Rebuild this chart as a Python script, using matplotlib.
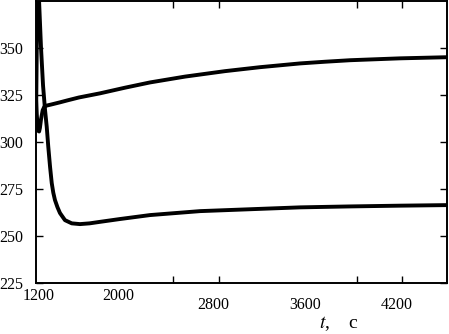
import matplotlib.pyplot as plt
from matplotlib.ticker import FixedLocator
from matplotlib.transforms import ScaledTranslation

plt.rcParams["font.family"] = ["Liberation Serif", "DejaVu Serif"]
plt.rcParams["mathtext.fontset"] = "stix"

# upper curve (settles near 345)
t_upper = [1200, 1206, 1213, 1220, 1226, 1233, 1242, 1256, 1270, 1290, 1330, 1400, 1460,
           1560, 1737, 1947, 2157, 2451, 2787, 3080, 3416, 3626, 3836, 4255, 4650]
v_upper = [323.0, 315.0, 308.5, 305.8, 305.5, 307.5, 312.0, 316.8, 318.7, 319.3, 319.9,
           321.0, 322.0, 323.6, 325.8, 328.8, 331.6, 334.7, 337.6, 339.7, 341.7, 342.6,
           343.4, 344.4, 345.0]

# lower curve (overshoots, settles near 266)
t_lower = [1200, 1204, 1209, 1214, 1219, 1225, 1242, 1259, 1276, 1290, 1303, 1318, 1332,
           1345, 1359, 1380, 1401, 1443, 1500, 1569, 1650, 1737, 1905, 2157, 2577, 2996,
           3416, 3836, 4255, 4650]
v_lower = [309.0, 335.0, 368.0, 388.0, 390.0, 376.0, 350.0, 330.0, 316.8, 308.0, 297.4,
           286.7, 278.1, 273.0, 269.1, 265.3, 262.2, 258.4, 256.7, 256.3, 256.7, 257.5,
           259.0, 261.1, 263.2, 264.2, 265.2, 265.7, 266.1, 266.4]

x_labels = [1200, 2000, 2800, 3600, 4200]
y_labels = [225, 250, 275, 300, 325, 350]
x_marks = [2350, 2740, 3895, 4270]

fig = plt.figure(figsize=(4.49, 3.34), dpi=100)
ax = fig.add_axes([0.0802, 0.1527, 0.9154, 0.845])

ax.plot(t_upper, v_upper, color="black", lw=2.8, solid_joinstyle="round")
ax.plot(t_lower, v_lower, color="black", lw=2.8, solid_joinstyle="round")

ax.set_xlim(1200, 4650)
ax.set_ylim(225, 375)

for sp in ax.spines.values():
    sp.set_linewidth(1.4)

ax.set_xticks(x_labels)
ax.set_xticklabels([str(v) for v in x_labels])
ax.xaxis.set_minor_locator(FixedLocator(x_marks))
ax.set_yticks(y_labels)
ax.set_yticklabels([str(v) for v in y_labels])

ax.tick_params(axis="x", which="major", length=0, pad=3.5, labelsize=11.5)
ax.tick_params(axis="x", which="minor", direction="in", length=5, width=1,
               top=True, bottom=True)
ax.tick_params(axis="y", which="major", direction="in", length=5, width=1,
               left=True, right=True, pad=9.5, labelsize=11.5)

# Mathcad-style placement of the x labels
dx = [3, -13, -13, -17, 3]
dy = [0, 0, -9, -9, -9]
for lab, ox, oy in zip(ax.get_xticklabels(), dx, dy):
    lab.set_transform(lab.get_transform() + ScaledTranslation(ox / 100, oy / 100, fig.dpi_scale_trans))

ax.text(0.738, -0.145, "$t$,    с", transform=ax.transAxes, ha="center", va="center",
        fontsize=14)

fig.savefig("out.png", dpi=100)
